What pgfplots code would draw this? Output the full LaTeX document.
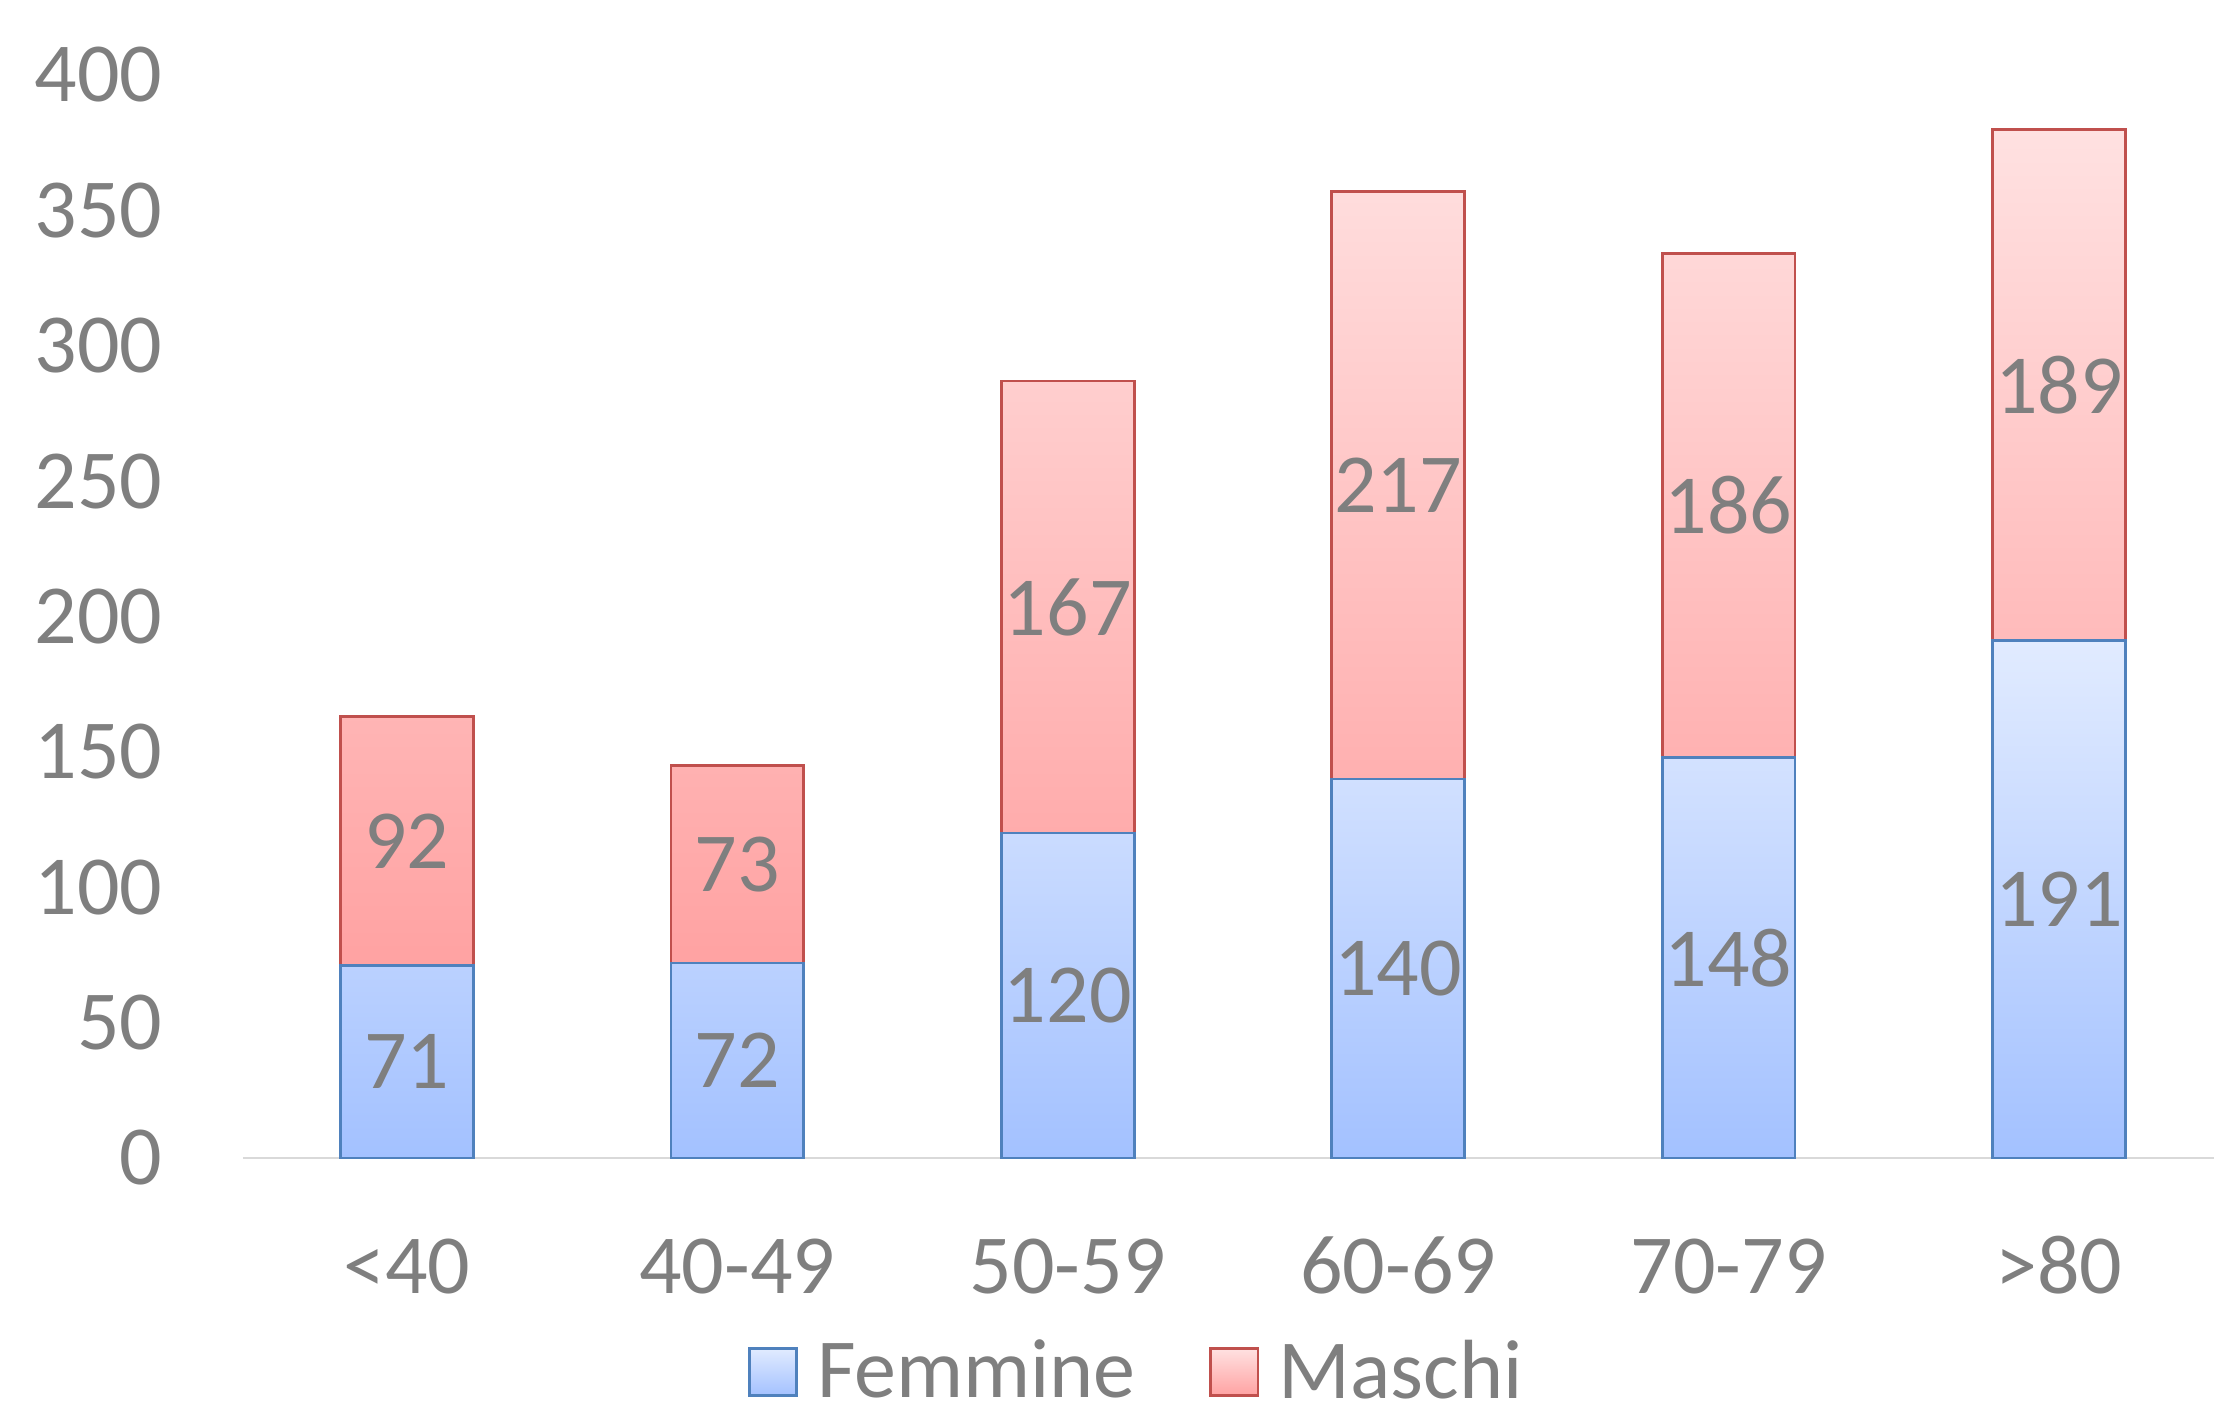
\documentclass[border=0pt]{standalone}
\usepackage{pgfplots}
\usepackage{pgfplotstable}
\pgfplotsset{compat=1.18}
\usepackage{fontspec}
\setmainfont{Carlito}
\definecolor{txt}{HTML}{7F7F7F}
\definecolor{fline}{HTML}{4F81BD}
\definecolor{ftop}{HTML}{E1EBFF}
\definecolor{fbot}{HTML}{A3C1FF}
\definecolor{mline}{HTML}{C0504D}
\definecolor{mtop}{HTML}{FFE1E1}
\definecolor{mbot}{HTML}{FFA2A2}
\definecolor{axline}{HTML}{D9D9D9}

% eta: <40 40-49 50-59 60-69 70-79 >80
\pgfplotstableread{
x f m
0 71 92
1 72 73
2 120 167
3 140 217
4 148 186
5 191 189
}\data

\begin{document}
\begin{tikzpicture}[font=\fontsize{21}{25}\selectfont, text=txt]
\pgfplotsset{
  base/.style={
    scale only axis, width=492.75pt, height=270.75pt,
    xmin=-0.496, xmax=5.469, ymin=0, ymax=400,
    clip=false,
  }
}
\begin{axis}[base,
    ybar stacked, bar width=33.2pt,
    axis x line=bottom, axis y line=left,
    x axis line style={-, draw=axline, line width=0.6pt},
    y axis line style={draw=none},
    xtick=data,
    xticklabels={{<40},{40-49},{50-59},{60-69},{70-79},{>80}},
    ytick={0,50,...,400},
    major tick length=0pt,
    tick style={draw=none},
    /pgf/number format/assume math mode=true,
    yticklabel style={inner sep=0pt, xshift=-20pt, text=txt},
    xticklabel style={inner sep=0pt, anchor=base, yshift=-34pt, text=txt},
    legend style={at={(0.4547,-0.1976)}, anchor=center, draw=none, fill=none,
      legend columns=2, text=txt, inner ysep=0pt, nodes={inner ysep=0pt},
      /tikz/every even column/.append style={column sep=16.4pt}},
    legend image code/.code={\draw[#1] (0pt,-5.9pt) rectangle (11.8pt,5.9pt);
      \path[draw=none, fill=none, shade=false] (0pt,0pt) rectangle (15pt,0pt);},
]
\addplot[draw=fline, line width=0.7pt, top color=ftop, bottom color=fbot] table[x=x, y=f] {\data};
\addlegendentry{Femmine}
\addplot[draw=mline, line width=0.7pt, top color=mtop, bottom color=mbot] table[x=x, y=m] {\data};
\addlegendentry{Maschi}
\end{axis}
\begin{axis}[base, hide axis]
\addplot[draw=none, mark=none, nodes near coords, point meta=explicit symbolic,
  every node near coord/.append style={anchor=center, text=txt, inner sep=0pt}]
  table[x=x, y expr=\thisrow{f}/2, meta=f] {\data};
\addplot[draw=none, mark=none, nodes near coords, point meta=explicit symbolic,
  every node near coord/.append style={anchor=center, text=txt, inner sep=0pt}]
  table[x=x, y expr=\thisrow{f}+\thisrow{m}/2, meta=m] {\data};
\end{axis}
\pgfresetboundingbox
\path[use as bounding box] (-60.75pt,-62.75pt) rectangle (492.75pt,289.5pt);
\end{tikzpicture}
\end{document}
